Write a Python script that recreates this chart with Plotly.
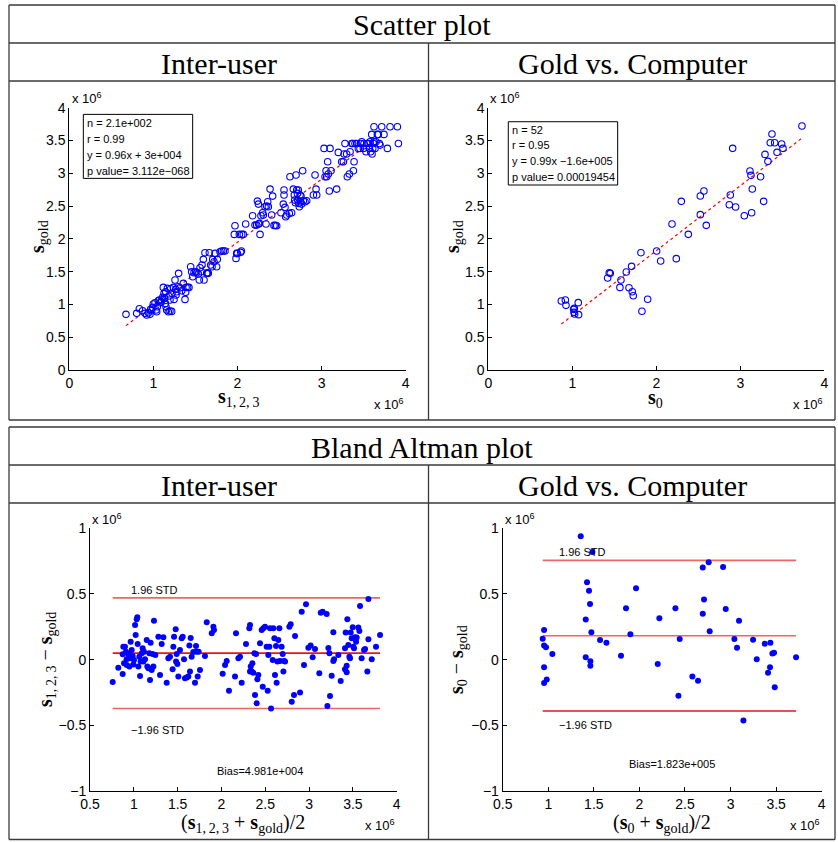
import plotly.graph_objects as go

# ---------------- DATA (values in units of 10^6) ----------------
# Scatter: Inter-user  (x = s_{1,2,3}, y = s_gold)
s123 = [0.674,0.801,0.833,0.872,0.900,0.920,0.940,0.959,0.967,0.979,0.991,0.999,1.019,1.031,1.039,1.047,1.058,1.070,1.078,1.090,
        1.098,1.110,1.118,1.126,1.134,1.142,1.150,1.158,1.177,1.197,1.217,1.146,1.166,1.181,1.197,1.205,1.221,1.237,1.245,1.257,
        1.265,1.269,1.277,1.296,1.300,1.316,1.336,1.356,1.376,1.384,1.388,1.407,1.423,1.443,1.455,1.467,1.483,1.502,1.514,1.534,
        1.546,1.554,1.570,1.578,1.594,1.602,1.613,1.633,1.641,1.653,1.665,1.681,1.697,1.705,1.721,1.732,1.752,1.760,1.792,1.812,
        1.832,1.851,
        1.970,1.962,1.982,1.990,1.998,2.022,2.038,2.046,2.050,2.069,2.097,
        2.180,2.208,2.228,2.236,2.248,2.252,2.260,2.268,2.279,2.299,2.307,2.327,2.339,2.347,2.359,2.367,2.387,2.406,2.418,2.434,
        2.450,2.466,
        2.517,2.545,2.553,2.553,2.565,2.573,2.585,2.616,2.624,2.644,2.664,2.676,2.680,2.688,2.696,2.704,2.712,2.716,2.723,2.727,
        2.735,2.743,2.751,2.755,2.763,2.775,2.783,2.803,2.823,2.902,2.922,2.934,2.942,
        3.029,3.041,3.053,3.060,3.072,3.080,3.092,3.100,3.112,3.179,3.199,3.239,3.259,3.267,3.278,3.298,3.306,3.330,3.338,3.358,
        3.370,3.378,3.386,3.397,3.417,3.437,3.457,3.465,3.477,3.497,3.504,3.528,3.536,3.556,3.568,3.576,3.584,3.596,3.600,3.608,
        3.616,3.623,3.635,3.647,3.663,3.675,3.687,3.695,3.715,3.742,3.782,3.814,3.901,3.913,3.623]
sgold1 = [0.849,0.864,0.935,0.904,0.864,0.838,0.874,0.849,0.925,0.904,0.955,1.006,1.026,0.915,0.889,0.965,1.057,1.067,1.026,1.042,
          1.067,1.108,1.260,1.169,1.092,1.016,0.965,0.915,0.889,0.899,0.894,1.194,1.245,1.128,1.067,1.240,1.169,1.260,1.077,1.372,
          1.230,1.143,1.194,1.270,1.474,1.255,1.209,1.321,1.077,1.184,1.260,1.260,1.260,1.575,1.499,1.423,1.484,1.499,1.484,1.463,
          1.372,1.560,1.499,1.601,1.687,1.372,1.789,1.474,1.484,1.474,1.789,1.601,1.575,1.687,1.651,1.778,1.575,1.687,1.804,1.814,
          1.814,1.814,
          2.200,2.068,1.702,1.778,1.778,2.068,1.794,1.814,2.068,2.068,2.226,
          2.353,2.210,2.210,2.576,2.530,2.226,2.236,2.068,2.353,2.398,2.363,2.490,2.226,2.500,2.566,2.490,2.759,2.363,2.652,2.205,
          2.205,2.200,
          2.398,2.530,2.744,2.668,2.480,2.337,2.363,2.388,2.947,2.398,2.759,2.668,2.591,2.551,2.973,2.744,2.693,2.591,2.744,2.541,
          2.490,2.668,2.566,2.652,2.530,3.039,2.581,2.566,2.581,2.668,2.973,2.759,2.668,
          3.379,2.947,3.039,2.947,3.176,2.988,2.729,3.379,3.039,2.759,3.318,3.176,3.176,3.293,3.455,3.293,2.947,2.988,3.328,3.455,
          3.455,3.039,3.176,3.455,3.455,3.379,3.379,3.455,3.481,3.379,3.455,3.328,3.455,3.455,3.379,3.481,3.328,3.593,3.293,3.379,
          3.455,3.481,3.379,3.481,3.593,3.593,3.455,3.430,3.709,3.593,3.379,3.709,3.709,3.455,3.709]
fit1_x = [0.674, 3.655]
fit1_y = [0.677, 3.539]
stats1 = ["n = 2.1e+002", "r = 0.99", "y = 0.96x + 3e+004", "p value= 3.112e\u2212068"]

# Scatter: Gold vs. Computer (x = s_0, y = s_gold)
s0 = [0.869,0.917,0.925,1.016,1.020,1.024,1.028,1.071,1.075,1.421,1.440,1.452,1.567,1.579,1.643,1.675,1.706,1.714,1.726,1.829,
      1.817,1.897,2.004,2.052,2.238,2.187,2.298,2.381,2.524,2.524,2.567,2.595,2.881,2.869,2.909,2.944,3.048,3.115,3.127,3.135,
      3.143,3.242,3.278,3.294,3.329,3.357,3.377,3.409,3.437,3.492,3.508,3.734]
sgold2 = [1.052,1.067,0.986,0.925,0.879,0.940,0.854,1.027,0.844,1.403,1.484,1.474,1.260,1.372,1.494,1.255,1.581,1.194,1.133,0.895,
          1.789,1.078,1.814,1.662,1.698,2.226,2.572,2.069,2.653,2.369,2.729,2.206,2.668,2.521,3.380,2.485,2.353,3.034,2.968,2.399,
          2.760,2.948,2.572,3.288,3.182,3.466,3.598,3.466,3.319,3.446,3.380,3.720]
fit2_x = [0.869, 3.742]
fit2_y = [0.700, 3.545]
stats2 = ["n = 52", "r = 0.95", "y = 0.99x \u22121.6e+005", "p value= 0.00019454"]

# Bland Altman: Inter-user (x = mean, y = difference)
ba1_mean = [0.759,0.823,0.873,0.873,0.880,0.888,0.899,0.911,0.918,0.918,0.937,0.949,0.957,0.964,0.976,0.987,0.995,1.002,1.014,1.021,
            1.033,1.040,1.044,1.052,1.063,1.071,1.078,1.090,1.101,1.109,1.116,1.128,1.147,1.154,1.166,1.177,1.185,1.192,1.204,1.215,
            1.223,1.230,1.246,1.280,1.299,1.318,1.337,1.375,1.394,1.413,1.443,1.451,1.459,1.478,1.482,1.489,1.497,1.508,1.527,1.546,
            1.558,1.573,1.584,1.603,1.622,1.634,1.641,1.649,1.660,1.679,1.698,1.710,1.717,1.729,1.740,1.755,1.812,1.832,1.889,1.908,
            1.915,2.014,2.041,2.060,2.086,2.155,2.166,2.193,2.212,2.231,2.280,2.318,2.326,2.326,2.334,2.345,2.353,2.364,2.376,2.383,
            2.395,2.402,2.410,2.421,2.440,2.459,2.471,2.478,2.497,2.516,2.528,2.535,2.547,2.554,2.566,2.585,2.592,2.604,2.611,2.623,
            2.630,2.638,2.649,2.661,2.668,2.687,2.699,2.707,2.714,2.726,2.775,2.790,2.802,2.828,2.840,2.897,2.916,2.942,2.965,2.992,
            3.018,3.041,3.068,3.117,3.133,3.155,3.201,3.209,3.220,3.232,3.239,3.258,3.277,3.277,3.285,3.334,3.361,3.410,3.410,3.418,
            3.429,3.429,3.437,3.448,3.460,3.467,3.475,3.486,3.498,3.505,3.513,3.524,3.536,3.543,3.562,3.574,3.582,3.600,3.627,3.639,
            3.665,3.677,3.677,3.715,3.764,3.810]
ba1_diff = [-0.170,-0.061,0.041,-0.109,0.099,-0.028,0.099,0.061,0.003,-0.041,0.041,-0.053,0.010,0.137,0.074,0.028,-0.036,-0.003,0.264,0.188,
            0.307,0.322,0.119,-0.053,0.023,-0.124,-0.015,0.048,0.086,-0.015,0.061,0.003,0.150,-0.053,-0.066,0.048,-0.155,0.129,-0.079,0.043,
            -0.053,0.297,0.036,0.175,-0.117,0.119,0.170,-0.175,0.010,0.023,-0.074,0.099,0.175,0.231,-0.015,0.043,-0.033,-0.129,0.074,0.162,
            0.175,0.003,-0.142,-0.135,-0.129,0.107,-0.091,0.165,0.023,0.058,-0.175,0.104,0.061,-0.129,0.061,-0.079,0.028,0.284,0.201,0.251,
            0.226,-0.107,-0.041,-0.010,-0.236,-0.129,0.201,0.010,0.023,-0.175,0.119,0.239,0.264,-0.091,-0.053,-0.091,-0.028,-0.099,0.048,-0.269,
            0.043,-0.332,-0.150,-0.117,0.124,0.226,-0.206,0.239,0.251,0.099,-0.236,0.036,0.099,0.239,-0.371,-0.003,0.239,0.162,-0.117,0.104,
            -0.175,-0.015,0.150,0.239,-0.010,0.099,0.043,-0.091,-0.010,-0.015,0.251,0.269,-0.320,-0.269,0.180,-0.251,0.365,-0.041,0.421,0.091,
            0.107,0.018,0.081,-0.104,0.358,0.365,0.348,-0.353,0.089,0.048,-0.277,-0.122,0.208,-0.010,0.003,0.036,-0.162,0.086,-0.074,0.206,
            -0.096,-0.046,0.307,0.112,0.023,0.010,0.206,0.162,0.246,0.099,0.086,0.170,0.137,0.168,0.244,0.218,0.409,0.010,0.074,0.081,
            -0.091,0.462,0.155,0.003,0.099,0.188]
ba1_range = [0.759, 3.810]
ba1_upper, ba1_bias, ba1_lower = 0.470, 0.04981, -0.372
ba1_bias_label = "Bias=4.981e+004"

# Bland Altman: Gold vs. Computer
ba2_mean = [1.356,1.484,0.954,0.939,0.954,0.975,0.954,0.954,0.983,1.045,1.425,1.447,1.458,1.411,1.473,1.411,1.462,1.462,1.568,1.638,
            1.798,1.853,1.901,1.963,2.201,2.219,2.395,2.442,2.428,2.581,2.643,2.695,2.760,2.709,2.695,2.771,2.918,2.947,3.042,3.071,
            3.093,3.141,3.247,3.287,3.375,3.437,3.411,3.433,3.459,3.477,3.485,3.719]
ba2_diff = [0.939,0.820,0.226,0.160,0.107,0.094,-0.058,-0.178,-0.152,0.043,0.589,0.525,0.424,0.305,0.208,0.018,-0.013,-0.046,0.150,0.129,
            0.030,0.391,0.193,0.543,-0.033,0.315,0.391,0.157,-0.274,-0.129,-0.160,0.701,0.741,0.457,0.350,0.216,0.706,0.386,0.157,0.091,
            0.297,-0.464,0.152,0.003,0.122,0.129,-0.099,-0.058,0.046,0.053,-0.211,0.018]
ba2_range = [0.939, 3.719]
ba2_upper, ba2_bias, ba2_lower = 0.756, 0.1823, -0.391
ba2_bias_label = "Bias=1.823e+005"

x_ticks_scatter = [0, 1, 2, 3, 4]
y_ticks_scatter = [0, 0.5, 1, 1.5, 2, 2.5, 3, 3.5, 4]
x_ticks_ba = [0.5, 1, 1.5, 2, 2.5, 3, 3.5, 4]
y_ticks_ba = [-1, -0.5, 0, 0.5, 1]

# ---------------- LAYOUT HELPERS ----------------
W, H = 838, 842
def px(x): return x / W
def py(y): return 1 - y / H

SANS = "Liberation Sans, Arial, sans-serif"
SERIF = "Liberation Serif, Times New Roman, serif"
BLUE = "#0000ff"

fig = go.Figure()

# scatter 1
fig.add_trace(go.Scatter(x=fit1_x, y=fit1_y, mode="lines", line=dict(color="red", width=1.2, dash="dot"),
                         xaxis="x", yaxis="y", hoverinfo="skip"))
fig.add_trace(go.Scatter(x=s123, y=sgold1, mode="markers",
                         marker=dict(symbol="circle-open", size=6.5, color=BLUE, line=dict(width=1.1, color=BLUE)),
                         xaxis="x", yaxis="y"))
# scatter 2
fig.add_trace(go.Scatter(x=fit2_x, y=fit2_y, mode="lines", line=dict(color="red", width=1.2, dash="dot"),
                         xaxis="x2", yaxis="y2", hoverinfo="skip"))
fig.add_trace(go.Scatter(x=s0, y=sgold2, mode="markers",
                         marker=dict(symbol="circle-open", size=6.5, color=BLUE, line=dict(width=1.1, color=BLUE)),
                         xaxis="x2", yaxis="y2"))

# Bland-Altman lines and points
def ba_traces(rng, up, bias, lo, xs, ys, xa, ya, colors):
    for val, col in zip([up, bias, lo], colors):
        fig.add_trace(go.Scatter(x=rng, y=[val, val], mode="lines", line=dict(color=col, width=1.6),
                                 xaxis=xa, yaxis=ya, hoverinfo="skip"))
    fig.add_trace(go.Scatter(x=xs, y=ys, mode="markers", marker=dict(symbol="circle", size=6, color=BLUE),
                             xaxis=xa, yaxis=ya))

ba_traces(ba1_range, ba1_upper, ba1_bias, ba1_lower, ba1_mean, ba1_diff, "x3", "y3",
          ["rgb(240,100,100)", "rgb(235,20,20)", "rgb(240,100,100)"])
ba_traces(ba2_range, ba2_upper, ba2_bias, ba2_lower, ba2_mean, ba2_diff, "x4", "y4",
          ["rgb(240,100,100)", "rgb(240,100,100)", "rgb(230,20,20)"])

axis_common = dict(showline=True, linecolor="black", linewidth=1, ticks="inside", ticklen=4,
                   tickcolor="black", showgrid=False, zeroline=False, mirror=False, automargin=False,
                   tickfont=dict(family=SANS, size=14, color="black"), fixedrange=True)

def xdom(a, b): return [px(a), px(b)]
def ydom(top, bottom): return [py(bottom), py(top)]

fig.update_layout(
    xaxis=dict(axis_common, domain=xdom(69.3, 405.7), range=[0, 4], tickvals=x_ticks_scatter, anchor="y"),
    yaxis=dict(axis_common, domain=ydom(107.7, 370), range=[0, 4], tickvals=y_ticks_scatter, anchor="x"),
    xaxis2=dict(axis_common, domain=xdom(488.3, 824.3), range=[0, 4], tickvals=x_ticks_scatter, anchor="y2"),
    yaxis2=dict(axis_common, domain=ydom(107.7, 370), range=[0, 4], tickvals=y_ticks_scatter, anchor="x2"),
    xaxis3=dict(axis_common, domain=xdom(90, 396.7), range=[0.5, 4], tickvals=x_ticks_ba,
                ticktext=[str(v) for v in x_ticks_ba], anchor="y3"),
    yaxis3=dict(axis_common, domain=ydom(528.3, 791), range=[-1, 1], tickvals=y_ticks_ba,
                ticktext=["\u22121", "\u22120.5", "0", "0.5", "1"], anchor="x3"),
    xaxis4=dict(axis_common, domain=xdom(502.7, 821.7), range=[0.5, 4], tickvals=x_ticks_ba,
                ticktext=[str(v) for v in x_ticks_ba], anchor="y4"),
    yaxis4=dict(axis_common, domain=ydom(528.3, 791), range=[-1, 1], tickvals=y_ticks_ba,
                ticktext=["\u22121", "\u22120.5", "0", "0.5", "1"], anchor="x4"),
    width=W, height=H, margin=dict(l=0, r=0, t=0, b=0, pad=0, autoexpand=False),
    paper_bgcolor="white", plot_bgcolor="white", showlegend=False,
)

shapes = []
annos = []
BORDER = "#3a3a3a"
def hline(y, x0=9, x1=835):
    shapes.append(dict(type="line", xref="paper", yref="paper", x0=px(x0), x1=px(x1), y0=py(y), y1=py(y),
                       line=dict(color=BORDER, width=1.3)))
def vline(x, y0, y1):
    shapes.append(dict(type="line", xref="paper", yref="paper", x0=px(x), x1=px(x), y0=py(y0), y1=py(y1),
                       line=dict(color=BORDER, width=1.3)))

# table 1
for y in [5, 43, 81, 420]:
    hline(y)
vline(9, 5, 420); vline(835, 5, 420); vline(428.5, 43, 420)
# table 2
for y in [427, 465, 503, 839.5]:
    hline(y)
vline(9, 427, 839.5); vline(835, 427, 839.5); vline(428.5, 465, 839.5)

def ptext(text, x, y, size, family=SERIF, xanchor="center", angle=0):
    annos.append(dict(text=text, xref="paper", yref="paper", x=px(x), y=py(y), xanchor=xanchor, yanchor="middle",
                      showarrow=False, textangle=angle, font=dict(family=family, size=size, color="black")))

ptext("Scatter plot", 422, 25, 30)
ptext("Inter-user", 219, 63, 30)
ptext("Gold vs. Computer", 632, 63, 30)
ptext("Bland Altman plot", 422, 447, 30)
ptext("Inter-user", 219, 485, 30)
ptext("Gold vs. Computer", 632, 485, 30)

# axis titles
S = "<b>s</b>"
SUB123 = "<sub>1,\u20092,\u20093</sub>"
SUBG = "<sub>gold</sub>"
ptext(S + SUBG, 39, 237, 20, angle=-90)
ptext(S + SUB123, 239, 397, 20)
ptext(S + SUBG, 454, 237, 20, angle=-90)
ptext(S + "<sub>0</sub>", 655, 398, 20)
ptext(S + SUB123 + " \u2212 " + S + SUBG, 46, 660, 20, angle=-90)
ptext("(" + S + SUB123 + " + " + S + SUBG + ")/2", 243, 823, 20)
ptext(S + "<sub>0</sub> \u2212 " + S + SUBG, 457, 660, 20, angle=-90)
ptext("(" + S + "<sub>0</sub> + " + S + SUBG + ")/2", 662, 823, 20)

# x 10^6 exponent labels
E = "x 10<sup>6</sup>"
for (x, y, anc) in [(70, 98, "left"), (406, 404, "right"), (488, 98, "left"), (825, 404, "right"),
                    (90, 519, "left"), (397, 825, "right"), (503, 519, "left"), (822, 825, "right")]:
    ptext(E, x, y, 13, family=SANS, xanchor=anc)

# stats boxes
def stat_box(xa, ya, x0, x1, y0, y1, tx, ys, lines):
    shapes.append(dict(type="rect", xref=xa, yref=ya, x0=x0, x1=x1, y0=y0, y1=y1,
                       line=dict(color="black", width=1), fillcolor="white", layer="below"))
    for t, yy in zip(lines, ys):
        annos.append(dict(text=t, xref=xa, yref=ya, x=tx, y=yy, xanchor="left", yanchor="middle",
                          showarrow=False, font=dict(family=SANS, size=11, color="black")))

stat_box("x", "y", 0.167, 1.467, 2.922, 3.898, 0.185, [3.76, 3.516, 3.272, 3.033], stats1)
stat_box("x2", "y2", 0.238, 1.540, 2.821, 3.786, 0.255, [3.659, 3.426, 3.182, 2.938], stats2)

def dtext(text, xa, ya, x, y, xanchor="left"):
    annos.append(dict(text=text, xref=xa, yref=ya, x=x, y=y, xanchor=xanchor, yanchor="middle",
                      showarrow=False, font=dict(family=SANS, size=11, color="black")))

dtext("1.96 STD", "x3", "y3", 0.945, 0.530)
dtext("\u22121.96 STD", "x3", "y3", 0.950, -0.536)
dtext(ba1_bias_label, "x3", "y3", 2.44, -0.848, "center")
dtext("1.96 STD", "x4", "y4", 1.10, 0.817)
dtext("\u22121.96 STD", "x4", "y4", 1.10, -0.497)
dtext(ba2_bias_label, "x4", "y4", 2.354, -0.794, "center")

fig.update_layout(shapes=shapes, annotations=annos)
fig.write_html("out.html", config={"responsive": False, "displayModeBar": False},
               post_script="document.body.style.margin='0px';document.body.style.overflow='hidden';"
                           "document.documentElement.style.overflow='hidden';")
